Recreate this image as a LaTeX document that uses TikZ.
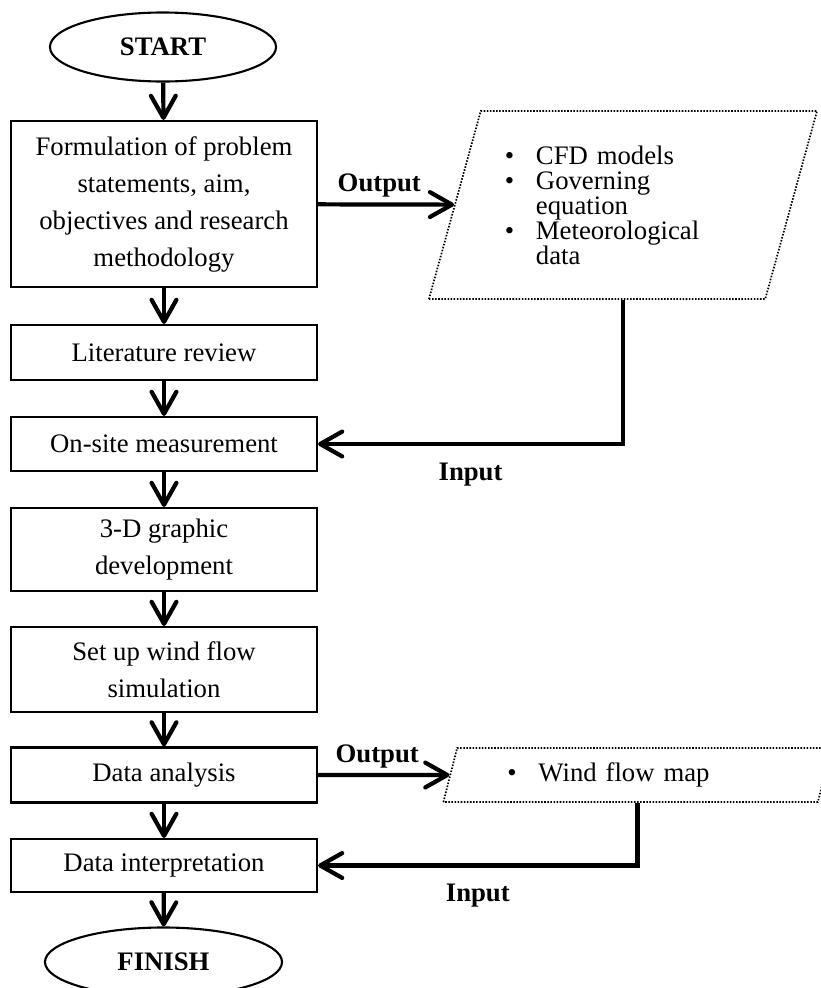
\documentclass[tikz,border=0pt]{standalone}
\usepackage{fontspec}
\setmainfont{Liberation Serif}
\usepackage{tikz}
\usetikzlibrary{positioning, shapes.geometric, arrows.meta}

\begin{document}
\begin{tikzpicture}[
            x=0.025cm, y=-0.025cm,
            box/.style={draw, rectangle, line width=1.5pt, minimum width=7.65cm, align=center, font=\fontsize{19}{26.3}\selectfont},
            terminal/.style={draw, ellipse, line width=1.5pt, minimum width=5.65cm, minimum height=1.725cm, font=\fontsize{19}{22}\selectfont\bfseries},
            iobox/.style={draw, trapezium, trapezium left angle=68, trapezium right angle=112, trapezium stretches body=true, dash pattern=on 1.1pt off 1.1pt, line width=1.2pt, minimum width=9.7cm, align=left, font=\fontsize{19}{17.8}\selectfont},
            arrow/.style={-{Straight Barb[length=0.55cm, width=0.62cm, round]}, line width=3pt},
            flowlabel/.style={font=\fontsize{19}{22}\selectfont\bfseries}
        ]
            \useasboundingbox (0,0) rectangle (821,988);

            % --- MAIN COLUMN ---
            \node[terminal] (start) at (163,47) {START};
            \node[box, minimum height=4.15cm] (formulation) at (164,204) {Formulation of problem\\statements, aim,\\objectives and research\\methodology};
            \node[box, minimum height=1.375cm] (litreview) at (164,352.5) {Literature review};
            \node[box, minimum height=1.35cm] (onsite) at (164,444) {On-site measurement};
            \node[box, minimum height=2.075cm] (graphic) at (164,549.5) {3-D graphic\\development};
            \node[box, minimum height=2.125cm] (setup) at (164,669.5) {Set up wind flow\\simulation};
            \node[box, minimum height=1.375cm] (analysis) at (164,775) {Data analysis};
            \node[box, minimum height=1.325cm] (interp) at (164,865.5) {Data interpretation};
            \node[terminal, minimum width=5.925cm] (finish) at (163.5,962) {FINISH};

            \draw[arrow] (start) -- (formulation);
            \draw[arrow] (formulation) -- (litreview);
            \draw[arrow] (litreview) -- (onsite);
            \draw[arrow] (onsite) -- (graphic);
            \draw[arrow] (graphic) -- (setup);
            \draw[arrow] (setup) -- (analysis);
            \draw[arrow] (analysis) -- (interp);
            \draw[arrow] (interp) -- (finish);

            % --- SIDE OUTPUTS ---
            \node[iobox, minimum height=4.7cm, text width=5.9cm] (cfd) at (623,205) {\makebox[0.775cm][l]{\textbullet}CFD models\\\makebox[0.775cm][l]{\textbullet}Governing\\\hspace*{0.775cm}equation\\\makebox[0.775cm][l]{\textbullet}Meteorological\\\hspace*{0.775cm}data};
            \node[iobox, minimum height=1.35cm, text width=6.5cm] (windmap) at (637.5,775) {\makebox[0.775cm][l]{\textbullet}Wind flow map};

            \draw[arrow] (formulation) -- node[flowlabel, above, pos=0.45] {Output} (cfd);
            \draw[arrow] (cfd.center |- cfd.south) |- node[flowlabel, below=0.3cm, pos=0.75] {Input} (onsite);

            \draw[arrow] (analysis) -- node[flowlabel, above, pos=0.45] {Output} (windmap);
            \draw[arrow] (windmap.center |- windmap.south) |- node[flowlabel, below=0.3cm, pos=0.75] {Input} (interp);

        \end{tikzpicture}
\end{document}
